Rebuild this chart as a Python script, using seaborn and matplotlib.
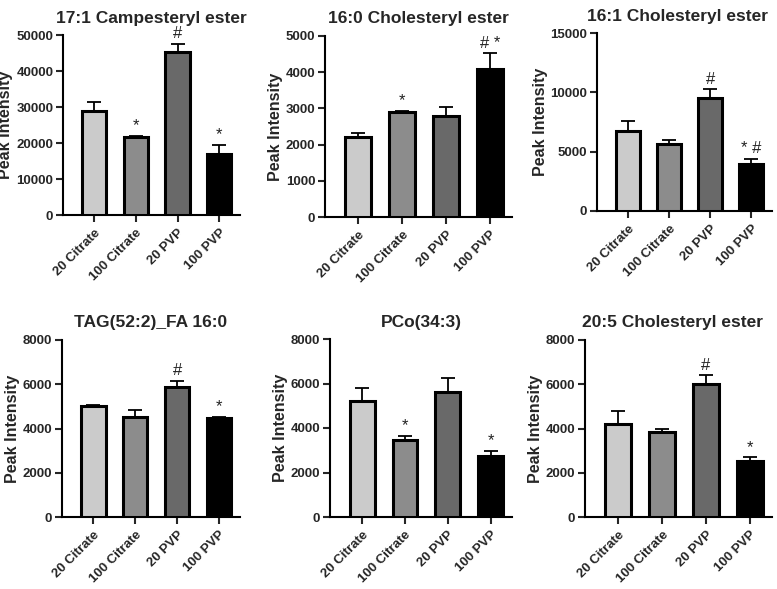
import numpy as np
import pandas as pd
import matplotlib
matplotlib.use("Agg")
import matplotlib.pyplot as plt
import seaborn as sns

sns.set_theme(style="ticks")
plt.rcParams["font.family"] = ["Liberation Sans", "DejaVu Sans"]
plt.rcParams["font.weight"] = "bold"

groups = ["20 Citrate", "100 Citrate", "20 PVP", "100 PVP"]
bar_colors = ["#cbcbcb", "#8c8c8c", "#696969", "#000000"]

titles = ["17:1 Campesteryl ester", "16:0 Cholesteryl ester", "16:1 Cholesteryl ester",
          "TAG(52:2)_FA 16:0", "PCo(34:3)", "20:5 Cholesteryl ester"]

campesteryl_17_1 = [29000, 21600, 45300, 17000]
campesteryl_17_1_err = [2400, 300, 2200, 2500]
cholesteryl_16_0 = [2200, 2890, 2790, 4100]
cholesteryl_16_0_err = [110, 50, 240, 420]
cholesteryl_16_1 = [6750, 5650, 9550, 3950]
cholesteryl_16_1_err = [800, 320, 700, 420]
tag_52_2 = [5020, 4520, 5860, 4480]
tag_52_2_err = [60, 320, 300, 60]
pco_34_3 = [5220, 3440, 5600, 2760]
pco_34_3_err = [560, 200, 640, 200]
cholesteryl_20_5 = [4220, 3840, 6000, 2540]
cholesteryl_20_5_err = [560, 120, 400, 150]

marks = [["", "*", "#", "*"],
         ["", "*", "", "# *"],
         ["", "", "#", "* #"],
         ["", "", "#", "*"],
         ["", "*", "", "*"],
         ["", "", "#", "*"]]

means = [campesteryl_17_1, cholesteryl_16_0, cholesteryl_16_1, tag_52_2, pco_34_3, cholesteryl_20_5]
errs = [campesteryl_17_1_err, cholesteryl_16_0_err, cholesteryl_16_1_err,
        tag_52_2_err, pco_34_3_err, cholesteryl_20_5_err]
ymax = [50000, 5000, 15000, 8000, 8000, 8000]
ystep = [10000, 1000, 5000, 2000, 2000, 2000]

# axes boxes in pixels: left, right, y of zero, y of top tick
W, H = 777, 589
boxes = [(63, 240, 215, 35), (325, 512, 217, 36), (597, 772, 211, 33),
         (62, 240, 517, 340), (330, 512, 517, 339), (585, 772, 517, 340)]
title_x = [0.5, 0.5, 0.46, 0.5, 0.5, 0.47]

fig = plt.figure(figsize=(W / 100, H / 100), dpi=100)

for i in range(6):
    l, r, y0, yt = boxes[i]
    ax = fig.add_axes([l / W, 1 - y0 / H, (r - l) / W, (y0 - yt) / H])
    df = pd.DataFrame({"group": groups, "value": means[i]})
    sns.barplot(data=df, x="group", y="value", hue="group", palette=bar_colors,
                order=groups, hue_order=groups, width=0.58, legend=False,
                edgecolor="black", linewidth=2.2, ax=ax, zorder=3)
    x = np.arange(len(groups))
    e = np.array(errs[i])
    ax.errorbar(x, means[i], yerr=[np.zeros_like(e), e], fmt="none",
                ecolor="black", elinewidth=1.3, capsize=5, capthick=1.3, zorder=2)
    for xi, m, ee, t in zip(x, means[i], e, marks[i]):
        if t:
            ax.text(xi, m + ee + ymax[i] * 0.015, t, ha="center", va="bottom",
                    fontsize=12, fontweight="normal", color="#222222")
    ax.set_xlim(-0.75, 3.5)
    ax.set_ylim(0, ymax[i])
    ax.set_yticks(np.arange(0, ymax[i] + 1, ystep[i]))
    ax.set_title(titles[i], fontsize=12.5, fontweight="bold", pad=9, x=title_x[i])
    ax.set_xlabel("")
    ax.set_ylabel("Peak Intensity", fontsize=11.5, fontweight="bold", labelpad=2)
    ax.set_xticks(x)
    ax.set_xticklabels(groups, rotation=45, ha="right", rotation_mode="anchor",
                       fontsize=9.5, fontweight="bold")
    ax.tick_params(axis="y", labelsize=9.5, width=1.5, length=5, pad=2)
    ax.tick_params(axis="x", width=1.5, length=5)
    for lab in ax.get_yticklabels():
        lab.set_fontweight("bold")
    sns.despine(ax=ax)
    for s in ["left", "bottom"]:
        ax.spines[s].set_linewidth(1.5)
        ax.spines[s].set_color("black")

fig.savefig("out.png", dpi=100)
